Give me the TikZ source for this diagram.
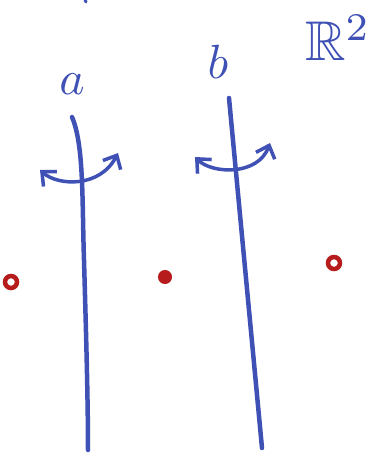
\documentclass[tikz,border=0pt]{standalone}
\usepackage{amssymb}
\usepackage{graphicx}
\usetikzlibrary{arrows.meta}
\definecolor{penblue}{RGB}{63,81,181}
\definecolor{penred}{RGB}{183,28,28}
\newcommand{\handsize}[1]{\scalebox{4.8}{#1}}

\begin{document}
\begin{tikzpicture}[x=1pt,y=-1pt,>={Straight Barb[length=11pt,width=20pt]},
  stroke/.style={penblue,line width=4.5pt,line cap=round},
  turn/.style={penblue,line width=3.5pt,line cap=round,<->},
  pin/.style={circle,draw=penred,fill=penred,line width=2pt,inner sep=0pt,minimum size=12pt},
  holed/.style={circle,draw=penred,line width=4.5pt,inner sep=0pt,minimum size=12pt},
  lbl/.style={penblue,inner sep=0pt}]
\useasboundingbox (0,0) rectangle (373,456);
% labels
\node[lbl] (la) at (72,84) {\handsize{$a$}};
\node[lbl] (lb) at (218,62) {\handsize{$b$}};
\node[lbl] (plane) at (338,38) {\scalebox{5.6}{$\mathbb{R}^2$}};
% the two lines
\coordinate (atop) at (72,117);
\coordinate (amid) at (84,260);
\coordinate (abot) at (88,450);
\coordinate (btop) at (229,98);
\coordinate (bbot) at (262,448);
\draw[stroke] (atop) .. controls (84,145) and (82,200) .. (amid)
  .. controls (86,330) and (88,400) .. (abot);
\draw[stroke] (btop) -- (bbot);
\draw[stroke,line width=3pt] (84,-3) -- (86,2);
% turning arrows
\coordinate (al) at (40,170);
\coordinate (ar) at (118,153);
\coordinate (bl) at (195,157);
\coordinate (br) at (270,143);
\draw[turn] (al) .. controls (58,186) and (100,188) .. (ar);
\draw[turn] (bl) .. controls (212,174) and (258,176) .. (br);
% points
\node[holed] (p1) at (11,282) {};
\node[pin] (p2) at (165,277) {};
\node[holed] (p3) at (334,263) {};
\end{tikzpicture}
\end{document}
